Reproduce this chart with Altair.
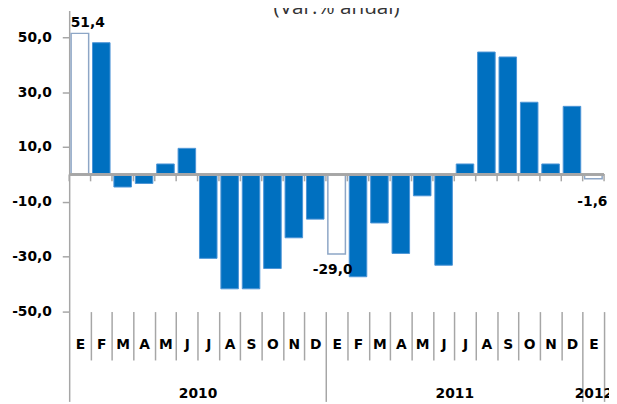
import altair as alt
import pandas as pd

# ---- data ----
meses = ["E", "F", "M", "A", "M", "J", "J", "A", "S", "O", "N", "D",
         "E", "F", "M", "A", "M", "J", "J", "A", "S", "O", "N", "D",
         "E"]
anios = [2010, 2010, 2010, 2010, 2010, 2010, 2010, 2010, 2010, 2010, 2010, 2010,
         2011, 2011, 2011, 2011, 2011, 2011, 2011, 2011, 2011, 2011, 2011, 2011,
         2012]
valores = [51.4, 48.0, -4.6, -3.3, 3.8, 9.5, -30.6, -41.7, -41.7, -34.3, -23.1, -16.3,
           -29.0, -37.3, -17.7, -28.8, -7.8, -33.1, 3.8, 44.6, 42.8, 26.3, 3.8, 24.8,
           -1.6]
y_ticks = [-50, -30, -10, 10, 30, 50]
titulo = "(Var.% anual)"

n = len(meses)
df = pd.DataFrame({"i": list(range(n)), "mes": meses, "anio": anios, "valor": valores})
df["destacado"] = df["mes"] == "E"

# axis helper positions (band boundaries / centres / year centres)
bounds = list(range(n + 1))
centers = [i + 0.5 for i in range(n)]
year_list = sorted(set(anios))
year_pos, year_bounds = [], [0]
for y in year_list:
    idx = [i for i, a in enumerate(anios) if a == y]
    year_pos.append(idx[0] + len(idx) / 2 + 0.001)
    year_bounds.append(idx[-1] + 1)

month_arr = "[" + ",".join("'%s'" % m for m in meses) + "]"
year_arr = "[" + ",".join("'%s'" % a for a in anios) + "]"
is_center = "abs(datum.value - floor(datum.value) - 0.5) < 0.0001"
is_bound = "datum.value == floor(datum.value)"
is_year = "(!(%s) && !(%s))" % (is_center, is_bound)
label_expr = "%s ? %s[floor(datum.value)] : (%s ? '' : %s[floor(datum.value)])" % (
    is_center, month_arr, is_bound, year_arr)

GRAY = "#A6A6A6"
FONT = "DejaVu Sans"

x_scale = alt.Scale(domain=[0, n], nice=False, zero=False)
y_scale = alt.Scale(domain=[-50, 59.7], nice=False, zero=False)

x_axis = alt.Axis(
    values=sorted(bounds + centers + year_pos),
    labelExpr=label_expr,
    domain=False, grid=False, title=None,
    labelOverlap=False, labelFlush=False,
    tickColor=GRAY, tickWidth=1.5,
    tickSize={"condition": {"test": "indexof(%s, datum.value) >= 0" % str(year_bounds), "value": 91}, "value": 49},
    tickOpacity={"condition": {"test": is_bound, "value": 1}, "value": 0},
    labelPadding={"condition": {"test": is_year, "value": 34}, "value": -16},
    labelBaseline="middle",
    labelFont=FONT, labelFontWeight="bold", labelFontSize=14, labelColor="black",
)
y_axis = alt.Axis(
    values=y_ticks,
    labelExpr="(datum.value < 0 ? '-' : '') + replace(format(abs(datum.value), '.1f'), '.', ',')",
    grid=False, title=None,
    domainColor=GRAY, domainWidth=1.5,
    tickColor=GRAY, tickWidth=1.5, tickSize=7, labelPadding=11,
    labelFont=FONT, labelFontWeight="bold", labelFontSize=14, labelColor="black",
)

bars = alt.Chart(df).transform_calculate(
    x0="datum.i + 0.09", x1="datum.i + 0.91"
).mark_bar().encode(
    x=alt.X("x0:Q", scale=x_scale, axis=x_axis),
    x2="x1:Q",
    y=alt.Y("valor:Q", scale=y_scale, axis=y_axis),
    y2=alt.datum(0),
    fill=alt.condition("datum.destacado", alt.value("white"), alt.value("#0070C0")),
    stroke=alt.condition("datum.destacado", alt.value("#8DA6C6"), alt.value("#4C94D6")),
    strokeWidth=alt.condition("datum.destacado", alt.value(1.5), alt.value(1)),
)

zero = alt.Chart(df).mark_rule(color=GRAY, strokeWidth=1.5).encode(
    y=alt.datum(0)
)

zero_ticks = alt.Chart(pd.DataFrame({"b": bounds})).mark_rule(
    color=GRAY, strokeWidth=1.5, y2Offset=7
).encode(
    x=alt.X("b:Q", scale=x_scale, axis=x_axis),
    y=alt.datum(0),
    y2=alt.datum(0),
)

offsets = [(8, -10, "middle"), (-4, 16, "middle"), (-1, 24, "middle")]
label_layers = []
for (idx, (dx, dy, bl)) in zip(df[df["destacado"]]["i"].tolist(), offsets):
    label_layers.append(
        alt.Chart(df).transform_filter("datum.i == %d" % idx).transform_calculate(
            xc="datum.i + 0.5",
            txt="(datum.valor < 0 ? '-' : '') + replace(format(abs(datum.valor), '.1f'), '.', ',')",
        ).mark_text(
            dx=dx, dy=dy, baseline=bl, align="center",
            font=FONT, fontWeight="bold", fontSize=14, color="black",
        ).encode(
            x=alt.X("xc:Q", scale=x_scale, axis=x_axis),
            y=alt.Y("valor:Q", scale=y_scale, axis=y_axis),
            text="txt:N",
        )
    )

chart = alt.layer(bars, zero, zero_ticks, *label_layers).properties(
    width=542,
    height=305,
    title=alt.TitleParams(titulo, font="Open Sans", fontSize=21, fontWeight="normal",
                          color="#333333", anchor="middle", offset=-7),
    autosize="none",
    padding={"left": 62, "top": 0, "right": 5, "bottom": 91},
).configure_view(stroke=None)

chart.save("out.html", embed_options={"renderer": "svg", "actions": False})
